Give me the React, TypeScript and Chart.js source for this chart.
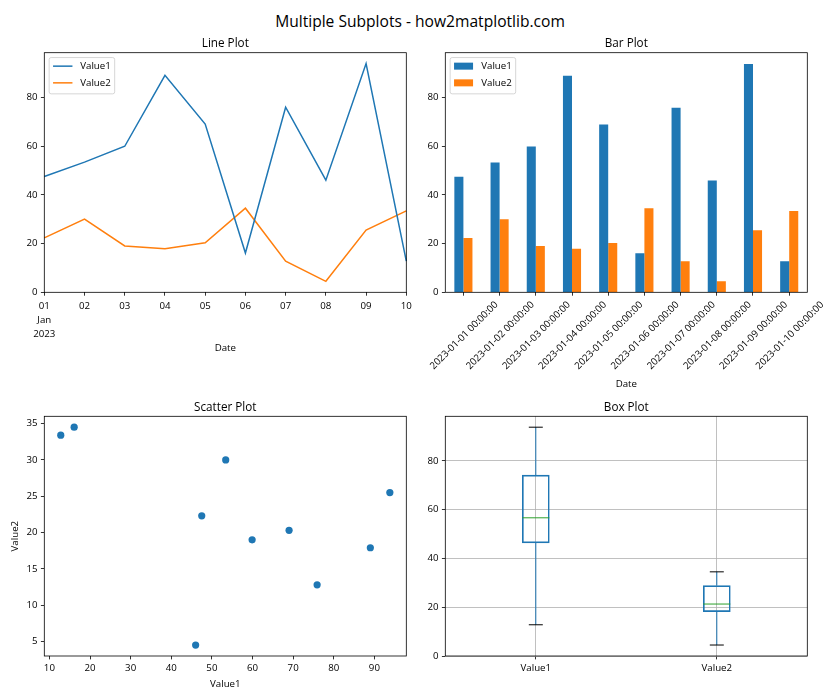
import React, { useEffect, useRef } from 'react';
import { Chart, registerables } from 'chart.js';

Chart.register(...registerables);

// ---------------- data ----------------
const dates = [
  '2023-01-01', '2023-01-02', '2023-01-03', '2023-01-04', '2023-01-05',
  '2023-01-06', '2023-01-07', '2023-01-08', '2023-01-09', '2023-01-10',
];
const seriesNames = ['Value1', 'Value2'];
const value1 = [47.5, 53.4, 59.9, 89.0, 69.0, 16.1, 75.9, 46.0, 93.8, 12.8];
const value2 = [22.3, 30.0, 19.0, 17.9, 20.3, 34.5, 12.8, 4.5, 25.5, 33.4];
const lineXTickLabels = ['01', '02', '03', '04', '05', '06', '07', '08', '09', '10'];
const lineXSubLabels = ['Jan', '2023'];
const valueTicks = [0, 20, 40, 60, 80];
const scatterXTicks = [10, 20, 30, 40, 50, 60, 70, 80, 90];
const scatterYTicks = [5, 10, 15, 20, 25, 30, 35];

// ---------------- style ----------------
const FONT = "'Open Sans', sans-serif";
const FS = 9.7;
const TITLE_FS = 11.7;
const BLUE = '#1f77b4';
const ORANGE = '#ff7f0e';
const GREEN = '#2ca02c';
const TITLE_LH = FS * 1.2;
const BOX_W = 27;
const CAP_W = 14;

type Rect = { x: number; y: number; w: number; h: number };
type Area = { l: number; t: number; r: number; b: number };

function frameLayout(c: Rect, a: Area, xTitleY?: number, yTitleX?: number) {
  const scaleLeft = yTitleX !== undefined ? yTitleX - TITLE_LH / 2 : c.x;
  const scaleBottom = xTitleY !== undefined ? xTitleY + TITLE_LH / 2 : c.y + c.h;
  return {
    padding: {
      left: scaleLeft - c.x,
      top: a.t - c.y,
      right: c.x + c.w - a.r,
      bottom: c.y + c.h - scaleBottom,
    },
    yWidth: a.l - scaleLeft,
    xHeight: scaleBottom - a.b,
  };
}

function pad5(vals: number[]) {
  const mn = Math.min(...vals);
  const mx = Math.max(...vals);
  const r = mx - mn;
  return { min: mn - 0.05 * r, max: mx + 0.05 * r };
}

function quantile(s: number[], p: number) {
  const pos = (s.length - 1) * p;
  const lo = Math.floor(pos);
  const hi = Math.ceil(pos);
  return s[lo] + (s[hi] - s[lo]) * (pos - lo);
}
function boxStats(vals: number[]) {
  const s = [...vals].sort((a, b) => a - b);
  const q1 = quantile(s, 0.25);
  const med = quantile(s, 0.5);
  const q3 = quantile(s, 0.75);
  const iqr = q3 - q1;
  const lo = s.find((v) => v >= q1 - 1.5 * iqr) as number;
  const hi = [...s].reverse().find((v) => v <= q3 + 1.5 * iqr) as number;
  return { q1, med, q3, lo, hi };
}

const tickFont = { family: FONT, size: FS };
const titleFont = { family: FONT, size: FS, lineHeight: 1.2 };

function gridOpts(onArea: boolean) {
  return {
    display: true,
    drawOnChartArea: onArea,
    drawTicks: true,
    tickLength: 3.4,
    tickColor: '#000',
    tickWidth: 0.8,
    color: '#b0b0b0',
    lineWidth: 0.8,
    offset: false,
  };
}

function fixedTicks(values: number[]) {
  return (scale: any) => {
    scale.ticks = values.map((v) => ({ value: v }));
  };
}

type LegendSpec = { kind: 'line' | 'rect'; items: { label: string; color: string }[] };

function mplPlugin(title: string, legend?: LegendSpec, extra?: (chart: any) => void) {
  return {
    id: 'mpl',
    afterDatasetsDraw(chart: any) {
      if (extra) extra(chart);
    },
    afterDraw(chart: any) {
      const { ctx, chartArea: a } = chart;
      ctx.save();
      ctx.strokeStyle = '#000';
      ctx.lineWidth = 0.8;
      ctx.strokeRect(a.left, a.top, a.right - a.left, a.bottom - a.top);
      ctx.fillStyle = '#000';
      ctx.font = `${TITLE_FS}px ${FONT}`;
      ctx.textAlign = 'center';
      ctx.textBaseline = 'alphabetic';
      ctx.fillText(title, (a.left + a.right) / 2, a.top - 5.8);
      if (legend) {
        ctx.font = `${FS}px ${FONT}`;
        const tw = Math.max(...legend.items.map((it) => ctx.measureText(it.label).width));
        const x0 = a.left + 4.85;
        const y0 = a.top + 4.85;
        const w = 3.9 + 19.4 + 7.8 + tw + 3.9;
        const h = 36.3;
        ctx.beginPath();
        ctx.roundRect(x0, y0, w, h, 2);
        ctx.fillStyle = 'rgba(255,255,255,0.8)';
        ctx.fill();
        ctx.strokeStyle = '#cccccc';
        ctx.lineWidth = 0.8;
        ctx.stroke();
        legend.items.forEach((it, i) => {
          const cy = y0 + 8.6 + i * 16.7;
          if (legend.kind === 'line') {
            ctx.strokeStyle = it.color;
            ctx.lineWidth = 1.5;
            ctx.beginPath();
            ctx.moveTo(x0 + 3.9, cy);
            ctx.lineTo(x0 + 3.9 + 19.4, cy);
            ctx.stroke();
          } else {
            ctx.fillStyle = it.color;
            ctx.fillRect(x0 + 3.9, cy - 3.5, 19.0, 7);
          }
          ctx.fillStyle = '#000';
          ctx.textAlign = 'left';
          ctx.textBaseline = 'middle';
          ctx.fillText(it.label, x0 + 3.9 + 19.4 + 7.8, cy);
        });
      }
      ctx.restore();
    },
  };
}

// ---------------- layout (page px) ----------------
const lineCanvas: Rect = { x: 0, y: 30, w: 420, h: 330 };
const lineArea: Area = { l: 44.3, t: 52.7, r: 406.3, b: 292.3 };
const barCanvas: Rect = { x: 340, y: 30, w: 500, h: 370 };
const barArea: Area = { l: 445.3, t: 52.7, r: 807.3, b: 292.3 };
const scatCanvas: Rect = { x: 0, y: 390, w: 420, h: 310 };
const scatArea: Area = { l: 44.3, t: 416.3, r: 406.3, b: 656 };
const boxCanvas: Rect = { x: 340, y: 390, w: 500, h: 310 };
const boxArea: Area = { l: 445.3, t: 416.3, r: 807.3, b: 656 };

function makeLine(canvas: HTMLCanvasElement) {
  const fl = frameLayout(lineCanvas, lineArea, 348.3);
  const yr = pad5([...value1, ...value2]);
  return new Chart(canvas, {
    type: 'line',
    data: {
      labels: dates,
      datasets: [
        { label: seriesNames[0], data: value1, borderColor: BLUE, borderWidth: 1.5, pointRadius: 0, tension: 0 },
        { label: seriesNames[1], data: value2, borderColor: ORANGE, borderWidth: 1.5, pointRadius: 0, tension: 0 },
      ],
    },
    options: {
      animation: false,
      responsive: false,
      events: [],
      layout: { padding: fl.padding },
      plugins: { legend: { display: false }, tooltip: { enabled: false } },
      scales: {
        x: {
          type: 'category',
          offset: false,
          border: { display: false },
          grid: gridOpts(false),
          ticks: {
            color: '#000',
            font: { ...tickFont, lineHeight: 1.45 },
            padding: 3.4,
            autoSkip: false,
            maxRotation: 0,
            minRotation: 0,
            callback: (_v: any, i: number) => (i === 0 ? [lineXTickLabels[i], ...lineXSubLabels] : lineXTickLabels[i]),
          },
          title: { display: true, text: 'Date', color: '#000', font: titleFont, padding: 0 },
          afterFit: (s: any) => { s.height = fl.xHeight; },
        },
        y: {
          min: 0,
          max: yr.max,
          border: { display: false },
          grid: gridOpts(false),
          ticks: { color: '#000', font: tickFont, padding: 3.4 },
          afterBuildTicks: fixedTicks(valueTicks),
          afterFit: (s: any) => { s.width = fl.yWidth; },
        },
      },
    },
    plugins: [
      mplPlugin('Line Plot', {
        kind: 'line',
        items: [
          { label: seriesNames[0], color: BLUE },
          { label: seriesNames[1], color: ORANGE },
        ],
      }),
    ],
  } as any);
}

function makeBar(canvas: HTMLCanvasElement) {
  const fl = frameLayout(barCanvas, barArea, 384);
  const ymax = Math.max(...value1, ...value2) * 1.05;
  return new Chart(canvas, {
    type: 'bar',
    data: {
      labels: dates.map((d) => `${d} 00:00:00`),
      datasets: [
        { label: seriesNames[0], data: value1, backgroundColor: BLUE, categoryPercentage: 0.5, barPercentage: 1 },
        { label: seriesNames[1], data: value2, backgroundColor: ORANGE, categoryPercentage: 0.5, barPercentage: 1 },
      ],
    },
    options: {
      animation: false,
      responsive: false,
      events: [],
      layout: { padding: fl.padding },
      plugins: { legend: { display: false }, tooltip: { enabled: false } },
      scales: {
        x: {
          type: 'category',
          offset: true,
          border: { display: false },
          grid: gridOpts(false),
          ticks: {
            color: '#000',
            font: tickFont,
            padding: 3.4,
            autoSkip: false,
            maxRotation: 45,
            minRotation: 45,
            labelOffset: 33,
          },
          title: { display: true, text: 'Date', color: '#000', font: titleFont, padding: 0 },
          afterFit: (s: any) => { s.height = fl.xHeight; },
        },
        y: {
          min: 0,
          max: ymax,
          border: { display: false },
          grid: gridOpts(false),
          ticks: { color: '#000', font: tickFont, padding: 3.4 },
          afterBuildTicks: fixedTicks(valueTicks),
          afterFit: (s: any) => { s.width = fl.yWidth; },
        },
      },
    },
    plugins: [
      mplPlugin('Bar Plot', {
        kind: 'rect',
        items: [
          { label: seriesNames[0], color: BLUE },
          { label: seriesNames[1], color: ORANGE },
        ],
      }),
    ],
  } as any);
}

function makeScatter(canvas: HTMLCanvasElement) {
  const fl = frameLayout(scatCanvas, scatArea, 684, 15);
  const xr = pad5(value1);
  const yr = pad5(value2);
  return new Chart(canvas, {
    type: 'scatter',
    data: {
      datasets: [
        {
          label: 'points',
          data: value1.map((v, i) => ({ x: v, y: value2[i] })),
          backgroundColor: BLUE,
          borderWidth: 0,
          pointRadius: 3.6,
        },
      ],
    },
    options: {
      animation: false,
      responsive: false,
      events: [],
      layout: { padding: fl.padding },
      plugins: { legend: { display: false }, tooltip: { enabled: false } },
      scales: {
        x: {
          type: 'linear',
          min: xr.min,
          max: xr.max,
          border: { display: false },
          grid: gridOpts(false),
          ticks: { color: '#000', font: tickFont, padding: 3.4, maxRotation: 0 },
          afterBuildTicks: fixedTicks(scatterXTicks),
          title: { display: true, text: seriesNames[0], color: '#000', font: titleFont, padding: 0 },
          afterFit: (s: any) => { s.height = fl.xHeight; },
        },
        y: {
          type: 'linear',
          min: yr.min,
          max: yr.max,
          border: { display: false },
          grid: gridOpts(false),
          ticks: { color: '#000', font: tickFont, padding: 3.4 },
          afterBuildTicks: fixedTicks(scatterYTicks),
          title: { display: true, text: seriesNames[1], color: '#000', font: titleFont, padding: 0 },
          afterFit: (s: any) => { s.width = fl.yWidth; },
        },
      },
    },
    plugins: [mplPlugin('Scatter Plot')],
  } as any);
}

function makeBox(canvas: HTMLCanvasElement) {
  const fl = frameLayout(boxCanvas, boxArea);
  const stats = [boxStats(value1), boxStats(value2)];
  const yr = pad5([...stats.map((s) => s.lo), ...stats.map((s) => s.hi)]);
  const drawBox = (chart: any) => {
    const { ctx } = chart;
    const xs = chart.scales.x;
    const ys = chart.scales.y;
    ctx.save();
    ctx.lineWidth = 1;
    stats.forEach((s, i) => {
      const x = xs.getPixelForValue(i);
      ctx.strokeStyle = BLUE;
      ctx.beginPath();
      ctx.moveTo(x, ys.getPixelForValue(s.q3));
      ctx.lineTo(x, ys.getPixelForValue(s.hi));
      ctx.moveTo(x, ys.getPixelForValue(s.q1));
      ctx.lineTo(x, ys.getPixelForValue(s.lo));
      ctx.stroke();
      ctx.strokeStyle = '#000';
      ctx.beginPath();
      ctx.moveTo(x - CAP_W / 2, ys.getPixelForValue(s.hi));
      ctx.lineTo(x + CAP_W / 2, ys.getPixelForValue(s.hi));
      ctx.moveTo(x - CAP_W / 2, ys.getPixelForValue(s.lo));
      ctx.lineTo(x + CAP_W / 2, ys.getPixelForValue(s.lo));
      ctx.stroke();
      ctx.strokeStyle = GREEN;
      ctx.beginPath();
      ctx.moveTo(x - BOX_W / 2, ys.getPixelForValue(s.med));
      ctx.lineTo(x + BOX_W / 2, ys.getPixelForValue(s.med));
      ctx.stroke();
    });
    ctx.restore();
  };
  return new Chart(canvas, {
    type: 'bar',
    data: {
      labels: seriesNames,
      datasets: [
        {
          label: 'box',
          data: stats.map((s) => [s.q1, s.q3]),
          backgroundColor: 'rgba(0,0,0,0)',
          borderColor: BLUE,
          borderWidth: 1,
          borderSkipped: false,
          barThickness: BOX_W,
        },
      ],
    },
    options: {
      animation: false,
      responsive: false,
      events: [],
      layout: { padding: fl.padding },
      plugins: { legend: { display: false }, tooltip: { enabled: false } },
      scales: {
        x: {
          type: 'category',
          offset: true,
          border: { display: false },
          grid: gridOpts(true),
          ticks: { color: '#000', font: tickFont, padding: 3.4, maxRotation: 0 },
          afterFit: (s: any) => { s.height = fl.xHeight; },
        },
        y: {
          min: 0,
          max: yr.max,
          border: { display: false },
          grid: gridOpts(true),
          ticks: { color: '#000', font: tickFont, padding: 3.4 },
          afterBuildTicks: fixedTicks(valueTicks),
          afterFit: (s: any) => { s.width = fl.yWidth; },
        },
      },
    },
    plugins: [mplPlugin('Box Plot', undefined, drawBox)],
  } as any);
}

function Cv({ r, cref }: { r: Rect; cref: React.RefObject<HTMLCanvasElement | null> }) {
  return (
    <canvas
      ref={cref}
      width={r.w}
      height={r.h}
      style={{ position: 'absolute', left: r.x, top: r.y, width: r.w, height: r.h }}
    />
  );
}

export default function App() {
  const r1 = useRef<HTMLCanvasElement>(null);
  const r2 = useRef<HTMLCanvasElement>(null);
  const r3 = useRef<HTMLCanvasElement>(null);
  const r4 = useRef<HTMLCanvasElement>(null);

  useEffect(() => {
    Chart.defaults.font.family = FONT;
    Chart.defaults.color = '#000';
    const charts = [
      makeLine(r1.current as HTMLCanvasElement),
      makeBar(r2.current as HTMLCanvasElement),
      makeScatter(r3.current as HTMLCanvasElement),
      makeBox(r4.current as HTMLCanvasElement),
    ];
    return () => charts.forEach((c) => c.destroy());
  }, []);

  return (
    <div style={{ position: 'absolute', left: 0, top: 0, width: 840, height: 700, background: '#fff', overflow: 'hidden' }}>
      <div
        style={{
          position: 'absolute',
          left: 0,
          top: 11,
          width: 840,
          textAlign: 'center',
          fontFamily: FONT,
          fontSize: 15.6,
          lineHeight: '20px',
          color: '#000',
        }}
      >
        Multiple Subplots - how2matplotlib.com
      </div>
      <Cv r={lineCanvas} cref={r1} />
      <Cv r={barCanvas} cref={r2} />
      <Cv r={scatCanvas} cref={r3} />
      <Cv r={boxCanvas} cref={r4} />
    </div>
  );
}
